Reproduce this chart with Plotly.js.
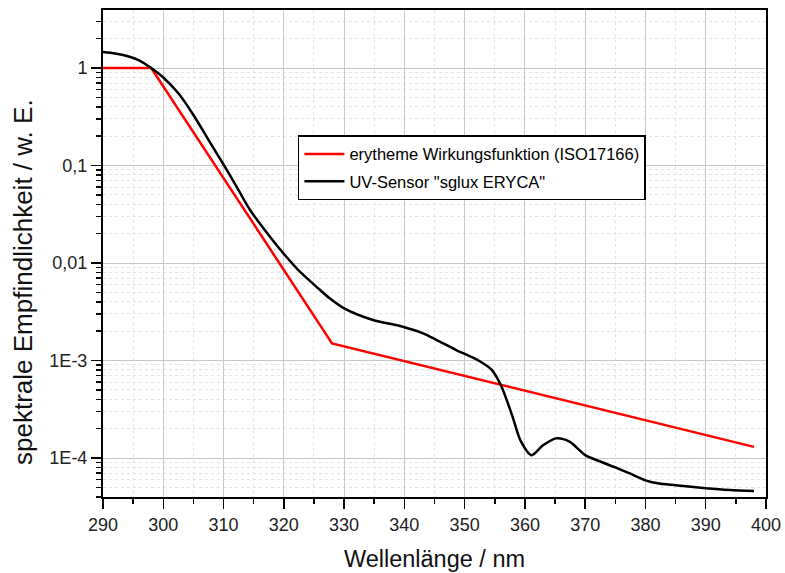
<!DOCTYPE html>
<html>
<head>
<meta charset="utf-8">
<script src="https://cdn.plot.ly/plotly-3.0.1.min.js"></script>
<style>html,body{margin:0;padding:0;background:#fff;}#chart{width:785px;height:573px;}</style>
</head>
<body>
<div id="chart"></div>
<script>
// Red: erythema action spectrum (ISO 17166) – breakpoints
const redWavelength = [290, 298, 328, 398];
const redValue      = [1, 1, 0.0015, 0.00013];

// Black: UV sensor "sglux ERYCA"
const sensorWavelength = [290, 292, 294, 296, 298, 300, 302.5, 305, 307.7, 310.1, 312.2, 314.4, 317.7, 320.2, 322.7, 325.3, 327.5, 330.1, 334.8, 339.3, 343.1, 345.3, 348.6, 352.3, 354.5, 356, 357, 358, 359.3, 361.1, 363, 365.2, 367.4, 370, 372.5, 375, 377.5, 380, 382, 385, 390, 394, 398];
const sensorValue      = [1.46, 1.41, 1.33, 1.20, 1.0, 0.80, 0.55, 0.33, 0.175, 0.100, 0.060, 0.035, 0.0186, 0.012, 0.0081, 0.0058, 0.0044, 0.0034, 0.0026, 0.00226, 0.0019, 0.00163, 0.00128, 0.00100, 0.00080, 0.00056, 0.00039, 0.00026, 0.000150, 0.000107, 0.000135, 0.000159, 0.000147, 0.000107, 0.000092, 0.000080, 0.000069, 0.000059, 0.000055, 0.0000525, 0.000049, 0.000047, 0.000046];

const seriesNames = ['erytheme Wirkungsfunktion (ISO17166)', 'UV-Sensor "sglux ERYCA"'];
const xTitle = 'Wellenlänge / nm';
const yTitle = 'spektrale Empfindlichkeit / w. E.';

const yTickVals = [1, 0.1, 0.01, 0.001, 0.0001];
const yTickText = ['1', '0,1', '0,01', '1E-3', '1E-4'];
const xTickVals = [290, 300, 310, 320, 330, 340, 350, 360, 370, 380, 390, 400];

// minor tick positions (digits 2..9 of each decade)
const yMinor = [];
for (let k = -5; k <= 0; k++) {
  for (let d = 2; d <= 9; d++) yMinor.push(d * Math.pow(10, k));
}
const xMinor = [];
for (let v = 295; v < 400; v += 10) xMinor.push(v);

const FONT = 'Liberation Sans, Arial, sans-serif';

const traces = [
  {x: redWavelength, y: redValue, name: seriesNames[0], mode: 'lines',
   line: {color: '#ff0000', width: 2.5}, legendgroup: 'a'},
  {x: sensorWavelength, y: sensorValue, name: seriesNames[1], mode: 'lines',
   line: {color: '#000000', width: 2.5, shape: 'spline', smoothing: 0.8}, legendgroup: 'b'}
];

const layout = {
  width: 785, height: 573,
  margin: {l: 103, r: 19, t: 10, b: 76},
  paper_bgcolor: '#ffffff', plot_bgcolor: '#ffffff',
  font: {family: FONT, color: '#000', size: 18},
  showlegend: true,
  legend: {
    x: 0.294, y: 0.743, xanchor: 'left', yanchor: 'top',
    bgcolor: '#ffffff', bordercolor: '#000000', borderwidth: 1.5,
    font: {family: FONT, size: 16.5, color: '#000'},
    tracegroupgap: 3, traceorder: 'grouped', itemwidth: 40
  },
  xaxis: {
    range: [290, 400], tickmode: 'array', tickvals: xTickVals,
    ticks: 'outside', ticklen: 10, tickwidth: 1.5, tickcolor: '#000',
    showline: true, linecolor: '#000', linewidth: 2, mirror: true,
    showgrid: true, gridcolor: '#c8c8c8', gridwidth: 1,
    zeroline: false,
    tickfont: {family: FONT, size: 18, color: '#222'},
    minor: {tickmode: 'array', tickvals: xMinor, ticks: 'outside', ticklen: 5,
            tickwidth: 1.5, tickcolor: '#000', showgrid: true, gridcolor: '#e4e4e4',
            griddash: 'dot', gridwidth: 1},
    title: {text: xTitle, font: {family: FONT, size: 23.5, color: '#111'}, standoff: 17}
  },
  yaxis: {
    type: 'log', range: [-4.4, 0.595],
    tickmode: 'array', tickvals: yTickVals, ticktext: yTickText,
    ticks: 'outside', ticklen: 10, tickwidth: 1.5, tickcolor: '#000',
    showline: true, linecolor: '#000', linewidth: 2, mirror: true,
    showgrid: true, gridcolor: '#c8c8c8', gridwidth: 1,
    zeroline: false,
    tickfont: {family: FONT, size: 18, color: '#222'},
    minor: {tickmode: 'array', tickvals: yMinor, ticks: 'outside', ticklen: 5,
            tickwidth: 1.5, tickcolor: '#000', showgrid: true, gridcolor: '#e4e4e4',
            griddash: 'dot', gridwidth: 1}
  },
  annotations: [{
    text: yTitle, textangle: -90, showarrow: false,
    xref: 'paper', yref: 'paper', x: -0.1207, y: 0.4415,
    xanchor: 'center', yanchor: 'middle',
    font: {family: FONT, size: 26, color: '#111'}
  }]
};

Plotly.newPlot('chart', traces, layout, {displayModeBar: false, staticPlot: true});
</script>
</body>
</html>
